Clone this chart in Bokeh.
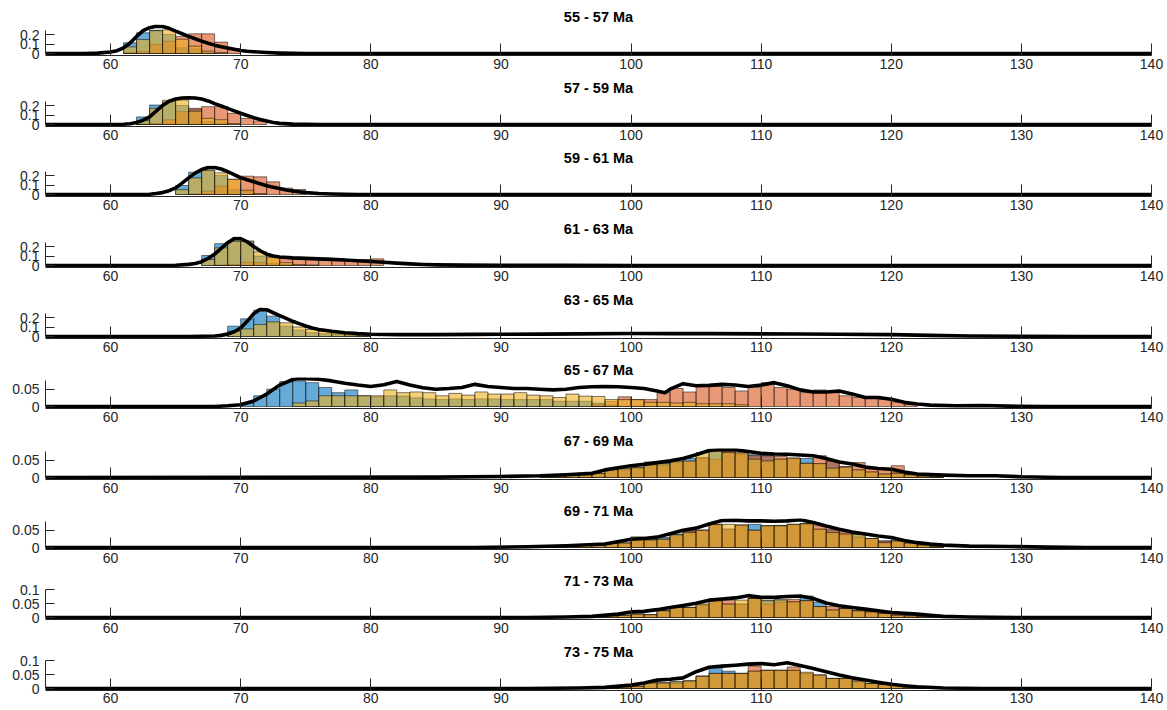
from bokeh.plotting import figure
from bokeh.layouts import column
from bokeh.models import Range1d, FixedTicker, NumeralTickFormatter
from bokeh.embed import file_html
from bokeh.resources import INLINE

# ---------------- data ----------------
titles = ["55 - 57 Ma", "57 - 59 Ma", "59 - 61 Ma", "61 - 63 Ma", "63 - 65 Ma",
          "65 - 67 Ma", "67 - 69 Ma", "69 - 71 Ma", "71 - 73 Ma", "73 - 75 Ma"]
x_ticks = [60, 70, 80, 90, 100, 110, 120, 130, 140]
bin_width = 1

# panel 1: 55 - 57 Ma
p1_bins = [60, 61, 62, 63, 64, 65, 66, 67, 68, 69]
p1_blue = [0.0, 0.112, 0.218, 0.245, 0.200, 0.060, 0.050, 0.010, 0.0, 0.0]
p1_red = [0.0, 0.010, 0.020, 0.095, 0.130, 0.180, 0.207, 0.207, 0.120, 0.050]
p1_yellow = [0.0, 0.070, 0.147, 0.240, 0.250, 0.150, 0.077, 0.025, 0.010, 0.0]
p1_kde_x = [55, 58, 59, 60, 60.5, 61, 61.5, 62, 62.5, 63, 63.5, 64, 64.5, 65, 65.5, 66, 66.5,
            67, 67.5, 68, 68.5, 69, 69.5, 70, 70.5, 71, 72, 73, 74, 75, 140]
p1_kde_y = [0, 0, 0.004, 0.015, 0.03, 0.06, 0.11, 0.18, 0.24, 0.272, 0.287, 0.285, 0.265, 0.235,
            0.208, 0.18, 0.155, 0.13, 0.108, 0.088, 0.072, 0.058, 0.045, 0.032, 0.024, 0.018,
            0.01, 0.004, 0.001, 0, 0]

# panel 2: 57 - 59 Ma
p2_bins = [62, 63, 64, 65, 66, 67, 68, 69, 70, 71]
p2_blue = [0.080, 0.205, 0.240, 0.200, 0.160, 0.030, 0.020, 0.0, 0.0, 0.0]
p2_red = [0.005, 0.010, 0.050, 0.135, 0.170, 0.188, 0.188, 0.118, 0.065, 0.037]
p2_yellow = [0.040, 0.170, 0.255, 0.258, 0.140, 0.065, 0.050, 0.010, 0.0, 0.0]
p2_kde_x = [55, 60, 61, 61.5, 62, 62.5, 63, 63.5, 64, 64.5, 65, 65.5, 66, 66.5, 67, 67.5, 68,
            68.5, 69, 69.5, 70, 70.5, 71, 71.5, 72, 72.5, 73, 74, 75, 76, 140]
p2_kde_y = [0, 0, 0.003, 0.008, 0.02, 0.045, 0.08, 0.14, 0.2, 0.245, 0.268, 0.279, 0.282, 0.279,
            0.268, 0.248, 0.22, 0.195, 0.17, 0.144, 0.118, 0.094, 0.072, 0.053, 0.037, 0.022,
            0.012, 0.004, 0.001, 0, 0]

# panel 3: 59 - 61 Ma
p3_bins = [65, 66, 67, 68, 69, 70, 71, 72, 73, 74]
p3_blue = [0.095, 0.235, 0.256, 0.200, 0.050, 0.030, 0.0, 0.0, 0.0, 0.0]
p3_red = [0.0, 0.005, 0.035, 0.088, 0.160, 0.193, 0.186, 0.133, 0.067, 0.053]
p3_yellow = [0.050, 0.175, 0.256, 0.228, 0.160, 0.045, 0.010, 0.0, 0.0, 0.0]
p3_kde_x = [55, 62, 63, 63.5, 64, 64.5, 65, 65.5, 66, 66.5, 67, 67.5, 68, 68.5, 69, 69.5, 70,
            70.5, 71, 71.5, 72, 72.5, 73, 73.5, 74, 75, 76, 77, 78, 79, 140]
p3_kde_y = [0, 0, 0.003, 0.01, 0.02, 0.04, 0.07, 0.12, 0.175, 0.225, 0.263, 0.284, 0.285, 0.268,
            0.24, 0.208, 0.178, 0.155, 0.135, 0.113, 0.093, 0.077, 0.062, 0.048, 0.036, 0.02,
            0.01, 0.005, 0.002, 0, 0]

# panel 4: 61 - 63 Ma
p4_bins = [67, 68, 69, 70, 71, 72, 73, 74, 75, 76, 77, 78, 79, 80]
p4_blue = [0.105, 0.230, 0.256, 0.256, 0.100, 0.020, 0.010, 0.0, 0.0, 0.0, 0.0, 0.0, 0.0, 0.0]
p4_red = [0.0, 0.005, 0.010, 0.035, 0.030, 0.085, 0.090, 0.080, 0.080, 0.074, 0.070, 0.063, 0.063, 0.070]
p4_yellow = [0.063, 0.186, 0.256, 0.256, 0.144, 0.090, 0.030, 0.010, 0.005, 0.0, 0.0, 0.0, 0.0, 0.0]
p4_kde_x = [55, 64, 65, 66, 66.5, 67, 67.5, 68, 68.5, 69, 69.5, 70, 70.5, 71, 71.5, 72, 72.5, 73,
            74, 75, 76, 77, 78, 79, 80, 81, 82, 83, 84, 85, 87, 90, 95, 100, 140]
p4_kde_y = [0, 0, 0.003, 0.012, 0.022, 0.04, 0.075, 0.12, 0.18, 0.24, 0.283, 0.283, 0.25, 0.2,
            0.155, 0.118, 0.1, 0.09, 0.08, 0.075, 0.07, 0.064, 0.058, 0.05, 0.042, 0.034, 0.025,
            0.017, 0.011, 0.007, 0.004, 0.002, 0.001, 0, 0]

# panel 5: 63 - 65 Ma
p5_bins = [69, 70, 71, 72, 73, 74, 75, 76, 77, 78, 79]
p5_blue = [0.109, 0.186, 0.277, 0.214, 0.109, 0.067, 0.040, 0.030, 0.020, 0.010, 0.005]
p5_red = [0.0, 0.0, 0.0, 0.0, 0.0, 0.0, 0.0, 0.0, 0.0, 0.0, 0.0]
p5_yellow = [0.056, 0.080, 0.126, 0.154, 0.144, 0.100, 0.074, 0.056, 0.039, 0.030, 0.015]
p5_kde_x = [55, 66, 67, 68, 68.5, 69, 69.5, 70, 70.5, 71, 71.5, 72, 72.5, 73, 73.5, 74, 74.5, 75,
            75.5, 76, 77, 78, 79, 80, 82, 85, 88, 90, 93, 96, 100, 103, 106, 110, 113, 116, 120,
            123, 126, 130, 135, 140]
p5_kde_y = [0, 0, 0.002, 0.006, 0.012, 0.025, 0.05, 0.09, 0.16, 0.24, 0.286, 0.282, 0.25, 0.22,
            0.19, 0.16, 0.135, 0.11, 0.09, 0.074, 0.055, 0.04, 0.03, 0.024, 0.02, 0.02, 0.022,
            0.024, 0.025, 0.028, 0.032, 0.03, 0.03, 0.028, 0.027, 0.024, 0.02, 0.012, 0.006,
            0.002, 0, 0]

# panel 6: 65 - 67 Ma
p6_bins = list(range(70, 122))
p6_blue = [0.010, 0.031, 0.050, 0.072, 0.074, 0.069, 0.055, 0.040, 0.048, 0.031, 0.028, 0.031,
           0.030, 0.025, 0.022, 0.020, 0.022, 0.020, 0.022, 0.022, 0.020, 0.020, 0.020, 0.020,
           0.015, 0.015, 0.015, 0.010, 0.005,
           0, 0, 0, 0, 0, 0, 0, 0, 0, 0, 0, 0, 0, 0, 0, 0, 0, 0, 0, 0, 0, 0, 0]
p6_yellow = [0, 0, 0, 0, 0.010, 0.016, 0.031, 0.031, 0.031, 0.031, 0.031, 0.048, 0.040, 0.042,
             0.040, 0.031, 0.038, 0.033, 0.042, 0.036, 0.036, 0.040, 0.033, 0.031, 0.026, 0.036,
             0.030, 0.029, 0.020, 0.020, 0.020, 0.012, 0.012, 0.010, 0.012, 0.008, 0.008, 0.008,
             0.005, 0, 0, 0, 0, 0, 0, 0, 0, 0, 0, 0, 0, 0]
p6_red = [0, 0, 0, 0, 0, 0, 0, 0, 0, 0, 0, 0, 0, 0, 0, 0, 0, 0, 0, 0, 0, 0, 0, 0, 0, 0, 0,
          0.005, 0.015, 0.028, 0.020, 0.020, 0.040, 0.052, 0.042, 0.058, 0.058, 0.055, 0.045,
          0.055, 0.069, 0.055, 0.050, 0.040, 0.048, 0.040, 0.031, 0.026, 0.026, 0.021, 0.013,
          0.007]
p6_kde_x = [55, 68, 69, 70, 71, 72, 73, 74, 74.5, 75, 76, 77, 78, 79, 80, 81, 82, 83, 84, 85,
            86, 87, 88, 89, 90, 91, 92, 93, 94, 95, 96, 97, 98, 99, 100, 101, 102, 102.6, 103,
            104, 105, 106, 107, 108, 109, 110, 111, 112, 113, 114, 115, 116, 117, 118, 119, 120,
            121, 122, 123, 125, 127, 129, 132, 140]
p6_kde_y = [0, 0, 0.002, 0.005, 0.016, 0.036, 0.062, 0.078, 0.081, 0.08, 0.079, 0.074, 0.067,
            0.062, 0.058, 0.063, 0.072, 0.062, 0.054, 0.05, 0.052, 0.055, 0.064, 0.058, 0.055,
            0.052, 0.052, 0.05, 0.048, 0.05, 0.055, 0.057, 0.058, 0.057, 0.055, 0.052, 0.045,
            0.04, 0.05, 0.066, 0.06, 0.061, 0.064, 0.062, 0.058, 0.062, 0.069, 0.06, 0.048,
            0.042, 0.042, 0.045, 0.036, 0.026, 0.026, 0.021, 0.012, 0.007, 0.004, 0.002, 0.003,
            0.001, 0, 0]

# panels 7-10 share bins 93..123
late_bins = list(range(93, 124))

# panel 7: 67 - 69 Ma
p7_blue = [0.003, 0.004, 0.007, 0.010, 0.012, 0.022, 0.024, 0.028, 0.040, 0.043, 0.046, 0.055,
           0.058, 0.077, 0.077, 0.070, 0.066, 0.063, 0.053, 0.056, 0.055, 0.040, 0.048, 0.030,
           0.022, 0.016, 0.010, 0.014, 0.008, 0.005, 0.002]
p7_red = [0.003, 0.004, 0.007, 0.009, 0.011, 0.020, 0.022, 0.026, 0.035, 0.036, 0.044, 0.046,
          0.056, 0.053, 0.077, 0.068, 0.063, 0.063, 0.061, 0.055, 0.041, 0.063, 0.048, 0.032,
          0.043, 0.029, 0.024, 0.034, 0.008, 0.005, 0.002]
p7_yellow = [0.003, 0.004, 0.007, 0.010, 0.012, 0.024, 0.026, 0.029, 0.045, 0.040, 0.048, 0.048,
             0.072, 0.077, 0.072, 0.072, 0.053, 0.048, 0.053, 0.056, 0.041, 0.040, 0.027, 0.030,
             0.022, 0.016, 0.010, 0.012, 0.008, 0.004, 0.002]
p7_kde_x = [55, 85, 90, 93, 95, 97, 98, 99, 100, 101, 102, 103, 104, 105, 106, 107, 108, 109,
            110, 111, 112, 113, 114, 115, 116, 117, 118, 119, 120, 121, 122, 124, 126, 128, 130,
            133, 140]
p7_kde_y = [0, 0.001, 0.003, 0.005, 0.008, 0.012, 0.022, 0.028, 0.034, 0.038, 0.043, 0.048,
            0.055, 0.066, 0.078, 0.081, 0.08, 0.075, 0.07, 0.068, 0.067, 0.065, 0.063, 0.055,
            0.045, 0.039, 0.03, 0.026, 0.024, 0.016, 0.01, 0.007, 0.005, 0.005, 0.002, 0, 0]

# panel 8: 69 - 71 Ma
p8_blue = [0.002, 0.003, 0.005, 0.007, 0.009, 0.012, 0.013, 0.028, 0.022, 0.029, 0.039, 0.048,
           0.050, 0.067, 0.053, 0.065, 0.067, 0.063, 0.064, 0.067, 0.069, 0.053, 0.050, 0.039,
           0.038, 0.026, 0.019, 0.019, 0.013, 0.007, 0.003]
p8_red = [0.002, 0.003, 0.005, 0.007, 0.009, 0.012, 0.013, 0.028, 0.022, 0.024, 0.034, 0.048,
          0.050, 0.066, 0.053, 0.064, 0.050, 0.062, 0.062, 0.066, 0.068, 0.063, 0.053, 0.045,
          0.030, 0.026, 0.019, 0.019, 0.013, 0.007, 0.003]
p8_yellow = [0.002, 0.003, 0.005, 0.007, 0.009, 0.012, 0.013, 0.031, 0.022, 0.024, 0.037, 0.043,
             0.050, 0.067, 0.067, 0.065, 0.050, 0.063, 0.063, 0.067, 0.069, 0.053, 0.043, 0.039,
             0.038, 0.026, 0.014, 0.019, 0.013, 0.007, 0.003]
p8_kde_x = [55, 88, 92, 95, 98, 100, 101, 102, 103, 104, 105, 106, 107, 108, 109, 110, 111, 112,
            113, 114, 115, 116, 117, 118, 119, 120, 121, 122, 123, 124, 126, 129, 132, 135, 140]
p8_kde_y = [0, 0, 0.002, 0.005, 0.01, 0.024, 0.026, 0.03, 0.04, 0.05, 0.056, 0.068, 0.078, 0.079,
            0.077, 0.077, 0.076, 0.077, 0.08, 0.072, 0.062, 0.053, 0.045, 0.039, 0.033, 0.029,
            0.02, 0.014, 0.01, 0.007, 0.004, 0.003, 0.001, 0, 0]

# panel 9: 71 - 73 Ma
p9_blue = [0.001, 0.002, 0.002, 0.003, 0.004, 0.006, 0.008, 0.012, 0.010, 0.024, 0.036, 0.036,
           0.045, 0.060, 0.048, 0.048, 0.068, 0.060, 0.063, 0.056, 0.077, 0.054, 0.027, 0.032,
           0.024, 0.020, 0.015, 0.008, 0.006, 0.004, 0.002]
p9_red = [0.001, 0.002, 0.002, 0.003, 0.004, 0.006, 0.008, 0.012, 0.010, 0.024, 0.036, 0.036,
          0.045, 0.060, 0.062, 0.048, 0.068, 0.048, 0.055, 0.065, 0.060, 0.039, 0.039, 0.032,
          0.024, 0.020, 0.015, 0.012, 0.006, 0.004, 0.002]
p9_yellow = [0.001, 0.002, 0.002, 0.003, 0.004, 0.006, 0.008, 0.012, 0.010, 0.024, 0.036, 0.036,
             0.048, 0.060, 0.048, 0.062, 0.068, 0.060, 0.063, 0.056, 0.060, 0.039, 0.027, 0.032,
             0.024, 0.020, 0.015, 0.008, 0.006, 0.004, 0.002]
p9_kde_x = [55, 92, 95, 97, 99, 100, 101, 102, 103, 104, 105, 106, 107, 108, 109, 110, 111, 112,
            113, 114, 115, 116, 117, 118, 119, 120, 121, 122, 123, 124, 126, 130, 140]
p9_kde_y = [0, 0, 0.002, 0.004, 0.012, 0.02, 0.022, 0.028, 0.036, 0.043, 0.051, 0.062, 0.066,
            0.07, 0.078, 0.072, 0.072, 0.075, 0.077, 0.068, 0.052, 0.042, 0.036, 0.03, 0.024,
            0.018, 0.015, 0.012, 0.008, 0.004, 0.002, 0, 0]

# panel 10: 73 - 75 Ma
p10_blue = [0.001, 0.001, 0.001, 0.002, 0.002, 0.002, 0.006, 0.008, 0.020, 0.020, 0.024, 0.027,
            0.044, 0.075, 0.062, 0.054, 0.062, 0.065, 0.065, 0.065, 0.054, 0.048, 0.036, 0.036,
            0.027, 0.018, 0.014, 0.012, 0.006, 0.003, 0.001]
p10_red = [0.001, 0.001, 0.001, 0.002, 0.002, 0.002, 0.006, 0.008, 0.020, 0.020, 0.018, 0.027,
           0.044, 0.054, 0.054, 0.054, 0.080, 0.065, 0.065, 0.077, 0.054, 0.048, 0.036, 0.036,
           0.024, 0.018, 0.014, 0.012, 0.006, 0.003, 0.001]
p10_yellow = [0.001, 0.001, 0.001, 0.002, 0.002, 0.002, 0.006, 0.008, 0.020, 0.020, 0.024, 0.027,
              0.044, 0.054, 0.054, 0.054, 0.062, 0.065, 0.065, 0.065, 0.058, 0.048, 0.036, 0.036,
              0.027, 0.018, 0.014, 0.012, 0.006, 0.003, 0.001]
p10_kde_x = [55, 92, 96, 98, 100, 101, 102, 103, 104, 105, 106, 107, 108, 109, 110, 111, 112,
             113, 114, 115, 116, 117, 118, 119, 120, 121, 122, 124, 127, 140]
p10_kde_y = [0, 0, 0.002, 0.004, 0.012, 0.02, 0.03, 0.033, 0.038, 0.06, 0.076, 0.08, 0.083,
             0.087, 0.089, 0.085, 0.092, 0.082, 0.071, 0.06, 0.048, 0.038, 0.03, 0.022, 0.015,
             0.01, 0.006, 0.002, 0, 0]

panels = [
    (p1_bins, p1_blue, p1_red, p1_yellow, p1_kde_x, p1_kde_y),
    (p2_bins, p2_blue, p2_red, p2_yellow, p2_kde_x, p2_kde_y),
    (p3_bins, p3_blue, p3_red, p3_yellow, p3_kde_x, p3_kde_y),
    (p4_bins, p4_blue, p4_red, p4_yellow, p4_kde_x, p4_kde_y),
    (p5_bins, p5_blue, p5_red, p5_yellow, p5_kde_x, p5_kde_y),
    (p6_bins, p6_blue, p6_red, p6_yellow, p6_kde_x, p6_kde_y),
    (late_bins, p7_blue, p7_red, p7_yellow, p7_kde_x, p7_kde_y),
    (late_bins, p8_blue, p8_red, p8_yellow, p8_kde_x, p8_kde_y),
    (late_bins, p9_blue, p9_red, p9_yellow, p9_kde_x, p9_kde_y),
    (late_bins, p10_blue, p10_red, p10_yellow, p10_kde_x, p10_kde_y),
]

# ---------------- styling / layout ----------------
FONT = "Liberation Sans"
AX_COLOR = "#262626"
COLORS = ["#0072BD", "#D95319", "#EDB120"]
px_per_unit = [95, 95, 95, 95, 95, 346, 346, 346, 280, 280]
axis_tops = [0.24, 0.24, 0.24, 0.24, 0.24, 0.076, 0.076, 0.076, 0.1, 0.1]
y_ticks = [[0, 0.1, 0.2]] * 5 + [[0, 0.05]] * 3 + [[0, 0.05, 0.1]] * 2
ABOVE_PX = 29   # frame pixels above zero
BELOW_PX = 2    # frame pixels below zero
FH = ABOVE_PX + BELOW_PX
# bottom borders chosen so the panels repeat every ~70.5 px
bottoms = [22, 21, 22, 22, 21, 22, 21, 21, 22, 20]

figs = []
n = len(panels)
for i, (bins, blue, red, yellow, kx, ky) in enumerate(panels):
    s = px_per_unit[i]
    last = (i == n - 1)
    p = figure(frame_width=1106, frame_height=FH,
               x_range=Range1d(55, 140), y_range=Range1d(-BELOW_PX / s, ABOVE_PX / s),
               output_backend="svg", toolbar_location=None,
               min_border_left=45, min_border_right=14,
               min_border_top=24 if i == 0 else 12,
               min_border_bottom=bottoms[i],
               title=titles[i])
    p.title.align = "center"
    p.title.text_font = FONT
    p.title.text_font_size = "14.5px"
    p.title.text_font_style = "bold"
    p.title.text_color = "black"
    p.title.standoff = 0
    p.outline_line_color = None
    p.xgrid.visible = False
    p.ygrid.visible = False
    p.background_fill_color = "white"
    p.border_fill_color = "white"

    for vals, col in zip((blue, red, yellow), COLORS):
        lefts = [b for b, v in zip(bins, vals) if v > 0]
        tops = [v for v in vals if v > 0]
        if not lefts:
            continue
        p.quad(left=lefts, right=[b + bin_width for b in lefts], bottom=0, top=tops,
               fill_color=col, fill_alpha=0.6, line_color="black", line_width=0.6,
               line_alpha=0.85)
    p.line(kx, ky, line_color="black", line_width=3.6, line_join="round", line_cap="round")

    xa = p.xaxis[0]
    xa.ticker = FixedTicker(ticks=x_ticks)
    xa.major_tick_in = 12
    xa.major_tick_out = 0
    xa.minor_tick_in = 0
    xa.minor_tick_out = 0
    xa.axis_line_color = AX_COLOR
    xa.major_tick_line_color = AX_COLOR
    xa.major_label_text_font = FONT
    xa.major_label_text_font_size = "14px"
    xa.major_label_text_color = AX_COLOR
    xa.major_label_standoff = 2 if last else 3

    ya = p.yaxis[0]
    ya.ticker = FixedTicker(ticks=y_ticks[i])
    ya.bounds = (0, axis_tops[i])
    ya.formatter = NumeralTickFormatter(format="0.[00]")
    ya.major_tick_in = 9
    ya.major_tick_out = 0
    ya.minor_tick_in = 0
    ya.minor_tick_out = 0
    ya.axis_line_color = AX_COLOR
    ya.major_tick_line_color = AX_COLOR
    ya.major_label_text_font = FONT
    ya.major_label_text_font_size = "14px"
    ya.major_label_text_color = AX_COLOR
    ya.major_label_standoff = 6
    figs.append(p)

layout = column(*figs, spacing=0)
open("out.html", "w").write(file_html(layout, INLINE))
